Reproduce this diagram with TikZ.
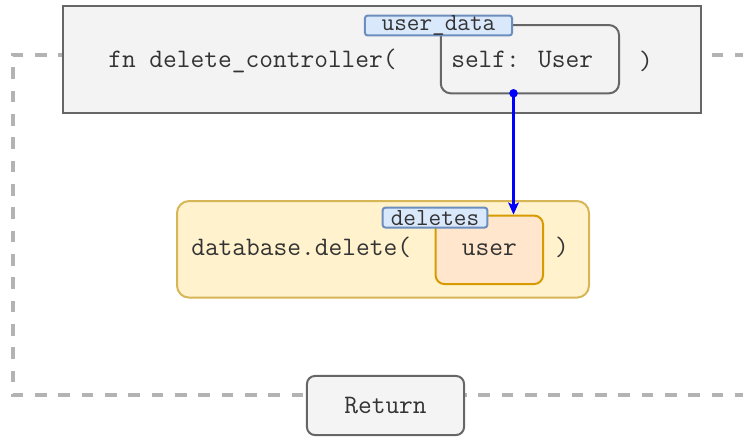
\documentclass[tikz,border=0pt]{standalone}
\usepackage{tikz}
\usepackage{xcolor}
\usetikzlibrary{arrows.meta}

\definecolor{loopgray}{RGB}{179,179,179}
\definecolor{edgegray}{RGB}{102,102,102}
\definecolor{boxgray}{RGB}{243,243,243}
\definecolor{tagfill}{RGB}{218,232,252}
\definecolor{tagedge}{RGB}{108,142,191}
\definecolor{callfill}{RGB}{255,242,204}
\definecolor{calledge}{RGB}{214,182,86}
\definecolor{argfill}{RGB}{255,230,204}
\definecolor{argedge}{RGB}{215,155,0}
\definecolor{codetext}{RGB}{51,51,51}

\tikzset{
  codefont/.style={font=\ttfamily\fontsize{20}{24}\selectfont, text=codetext},
  tagfont/.style={font=\ttfamily\fontsize{18.4}{22}\selectfont, text=codetext},
  box/.style={draw=edgegray, line width=1.5pt, inner sep=0pt},
  tag/.style={box, draw=tagedge, fill=tagfill, rounded corners=2pt, tagfont},
}

\begin{document}
\begin{tikzpicture}[x=0.75pt,y=0.75pt,yscale=-1,xscale=1]
\useasboundingbox (0,0) rectangle (743,436);
\clip (0,0) rectangle (743,436);

%Dashed loop
\draw [loopgray, line width=2.7pt, dash pattern={on 8.7pt off 8.8pt}] (770,54.7) -- (12.7,54.7) -- (12.7,395) -- (770,395) ;

%Shape: controller box
\node [box, fill=boxgray, minimum width=478.5pt, minimum height=80.4pt] (ctrl) at (381.7,59.1) {};
%Shape: parameter box
\node [box, rounded corners=7.5pt, minimum width=133.7pt, minimum height=51.2pt] (self) at (529.9,59.2) {};
%Shape: parameter tag
\node [tag, minimum width=110.3pt, minimum height=14.3pt] (userdata) at (438.5,25.5) {user\_data};

%Shape: call box
\node [box, draw=calledge, fill=callfill, rounded corners=9pt, minimum width=309pt, minimum height=72.4pt] (call) at (383,249.3) {};
%Shape: argument box
\node [box, draw=argedge, fill=argfill, rounded corners=6.75pt, minimum width=80.6pt, minimum height=51.4pt] (user) at (489.3,249.8) {};
%Shape: argument tag
\node [tag, minimum width=78.5pt, minimum height=14.9pt] (deletes) at (435,217.6) {deletes};

%Shape: return box
\node [box, fill=boxgray!90!white, rounded corners=6pt, minimum width=117.8pt, minimum height=44.3pt, codefont] (return) at (385.5,405.5) {Return};

%Straight Lines: value passed on
\coordinate (src) at (513.5,93.3) ;
\draw [blue, line width=1.6pt, -{Stealth[length=9pt,width=8pt,inset=2pt]}] (src) -- (src |- user.north) ;
\fill [blue] (src) circle (3.2pt) ;

% Text Node
\node [codefont, anchor=west, inner sep=0pt] (fnname) at (108,61) {fn delete\_controller(};
% Text Node
\node [codefont, anchor=west, inner sep=0pt] (selftype) at (451,59) {self: User};
% Text Node
\node [codefont, inner sep=0pt] (fnclose) at (646,61) {)};
% Text Node
\node [codefont, anchor=west, inner sep=0pt] (callname) at (191,247) {database.delete(};
% Text Node
\node [codefont, inner sep=0pt] (username) at (user.center) {user};
% Text Node
\node [codefont, inner sep=0pt] (callclose) at (562,247) {)};

\end{tikzpicture}
\end{document}
